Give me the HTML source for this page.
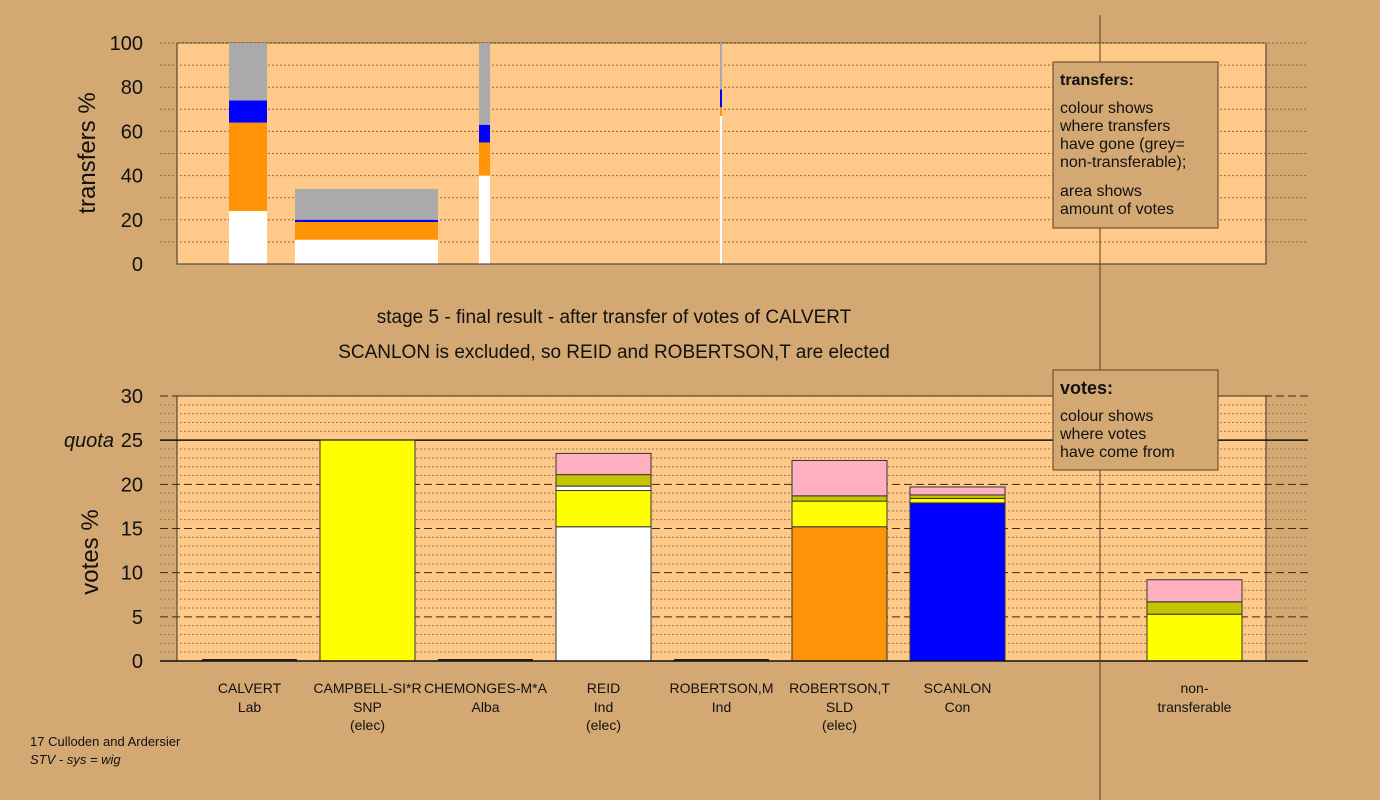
<!DOCTYPE html>
<html><head><meta charset="utf-8"><style>
body{margin:0;background:#d4a872;}
svg{display:block;font-family:"Liberation Sans",sans-serif;}
</style></head><body>
<svg id="c" width="1380" height="800"></svg>
<script>
// transfers chart data (stacked segments, % of transferred votes)
const tBarStarts = [0, 1, 2, 3];
const tBarWhite = [24, 11, 40, 67];
const tBarOrange = [40, 8, 15, 4];
const tBarBlue = [10, 1, 8, 8];
const tBarGrey = [26, 14, 37, 21];
const tTicks = [0, 20, 40, 60, 80, 100];
// votes chart data
const candidates = ["CALVERT","CAMPBELL-SI*R","CHEMONGES-M*A","REID","ROBERTSON,M","ROBERTSON,T","SCANLON","non-"];
const party = ["Lab","SNP","Alba","Ind","Ind","SLD","Con","transferable"];
const elec = ["","(elec)","","(elec)","","(elec)","",""];
const segColors = ["#ffffff","#ff9408","#0000ff","#ffff00","#ffffff","#c4c400","#ffb0c0"];
const vWhite = [0,0,0,15.2,0,0,0,0];
const vOrange = [0,0,0,0,0,15.2,0,0];
const vBlue = [0,0,0,0,0,0,17.9,0];
const vYellow = [0,25,0,4.1,0,2.9,0.5,5.3];
const vWhite2 = [0,0,0,0.5,0,0,0,0];
const vOlive = [0,0,0,1.3,0,0.6,0.4,1.4];
const vPink = [0,0,0,2.4,0,4.0,0.9,2.5];
const vTicks = [0,5,10,15,20,25,30];
const quota = 25;

const NS="http://www.w3.org/2000/svg";
const svg=document.getElementById('c');
function el(t,a,p){const e=document.createElementNS(NS,t);for(const k in a)e.setAttribute(k,a[k]);(p||svg).appendChild(e);return e;}
function txt(x,y,s,a){const e=el('text',Object.assign({x:x,y:y},a));e.textContent=s;return e;}

// ---- top chart
const tY=v=>264-v*2.21;
let r=el('rect',{x:177,y:43,width:1089,height:221,fill:'#ffc98a',stroke:'#333','stroke-width':1});

for(let v=10;v<=100;v+=10){let l=el('line',{x1:160,x2:1308,y1:tY(v),y2:tY(v),stroke:'#8a6a40','stroke-dasharray':'2,2','stroke-width':1});
}
const tX=[229,295,479,720], tW=[38,143,11,2];
tBarStarts.forEach((i)=>{
 let base=0;
 [[tBarWhite,'#ffffff'],[tBarOrange,'#ff9408'],[tBarBlue,'#0000ff'],[tBarGrey,'#aaaaaa']].forEach(([arr,c])=>{
  const v=arr[i];const s=el('rect',{x:tX[i],y:tY(base+v),width:tW[i],height:v*2.21,fill:c});
  base+=v;});
});
el('line',{x1:177,x2:1266,y1:264,y2:264,stroke:'#333'});
tTicks.forEach(v=>{const t=txt(143,tY(v)+7,String(v),{'font-size':20,'text-anchor':'end',fill:'#111'});
});
let yt=txt(0,0,'transfers %',{'font-size':24,'text-anchor':'middle',fill:'#111',transform:'translate(95,153) rotate(-90)'});


// titles
let t1=txt(614,323,'stage 5 - final result - after transfer of votes of CALVERT',{'font-size':19,'text-anchor':'middle',fill:'#111'});

let t2=txt(614,358,'SCANLON is excluded, so REID and ROBERTSON,T are elected',{'font-size':19,'text-anchor':'middle',fill:'#111'});


// ---- bottom chart
const vY=v=>661-v*8.833;
r=el('rect',{x:177,y:396,width:1089,height:265,fill:'#ffc98a',stroke:'#333','stroke-width':1});

for(let v=1;v<=30;v++){
 if(v===quota) continue;
 const major=v%5===0;
 let l=el('line',{x1:160,x2:1308,y1:vY(v),y2:vY(v),stroke:major?'#3a2a10':'#9a7a50','stroke-dasharray':major?'8,4':'2,2','stroke-width':1});
 
}
let q=el('line',{x1:160,x2:1308,y1:vY(quota),y2:vY(quota),stroke:'#111','stroke-width':1.5});

const slotX=i=>(i<7?202+i*118:1147);
const series=[vWhite,vOrange,vBlue,vYellow,vWhite2,vOlive,vPink];
candidates.forEach((c,i)=>{
 let base=0;const x=slotX(i);
 series.forEach((arr,k)=>{const v=arr[i];if(v<=0)return;
  const s=el('rect',{x:x,y:vY(base+v),width:95,height:v*8.833,fill:segColors[k],stroke:'#333','stroke-width':1});
  base+=v;});
 if(base===0){el('line',{x1:x,x2:x+95,y1:660,y2:660,stroke:'#222','stroke-width':2});}
 const cx=x+47.5;
 let a=txt(cx,693,c,{'font-size':14,'text-anchor':'middle',fill:'#111'});
 
 let b=txt(cx,712,party[i],{'font-size':14,'text-anchor':'middle',fill:'#111'});
 
 if(elec[i]){let e=txt(cx,730,elec[i],{'font-size':14,'text-anchor':'middle',fill:'#111'});
 }
});
el('line',{x1:160,x2:1308,y1:661,y2:661,stroke:'#111','stroke-width':1.5});
vTicks.forEach(v=>{const t=txt(143,vY(v)+7,String(v),{'font-size':20,'text-anchor':'end',fill:'#111'});
});
let qt=txt(114,447,'quota',{'font-size':20,'text-anchor':'end','font-style':'italic',fill:'#111'});

yt=txt(0,0,'votes %',{'font-size':24,'text-anchor':'middle',fill:'#111',transform:'translate(98,552) rotate(-90)'});


// separator
let sep=el('line',{x1:1100,x2:1100,y1:15,y2:800,stroke:'#5a4020','stroke-width':1});


// legends
let lg=el('rect',{x:1053,y:62,width:165,height:166,fill:'#d4a872',stroke:'#5a4020'});

txt(1060,85,'transfers:',{'font-size':16,'font-weight':'bold',fill:'#111'});
['colour shows','where transfers','have gone (grey=','non-transferable);'].forEach((s,i)=>txt(1060,113+i*18,s,{'font-size':16,fill:'#111'}));
['area shows','amount of votes'].forEach((s,i)=>txt(1060,196+i*18,s,{'font-size':16,fill:'#111'}));
lg=el('rect',{x:1053,y:370,width:165,height:100,fill:'#d4a872',stroke:'#5a4020'});

txt(1060,394,'votes:',{'font-size':18,'font-weight':'bold',fill:'#111'});
['colour shows','where votes','have come from'].forEach((s,i)=>txt(1060,421+i*18,s,{'font-size':16,fill:'#111'}));

// footer
let f1=txt(30,746,'17 Culloden and Ardersier',{'font-size':13,fill:'#111'});

let f2=txt(30,764,'STV - sys = wig',{'font-size':13,'font-style':'italic',fill:'#111'});

</script>
</body></html>
